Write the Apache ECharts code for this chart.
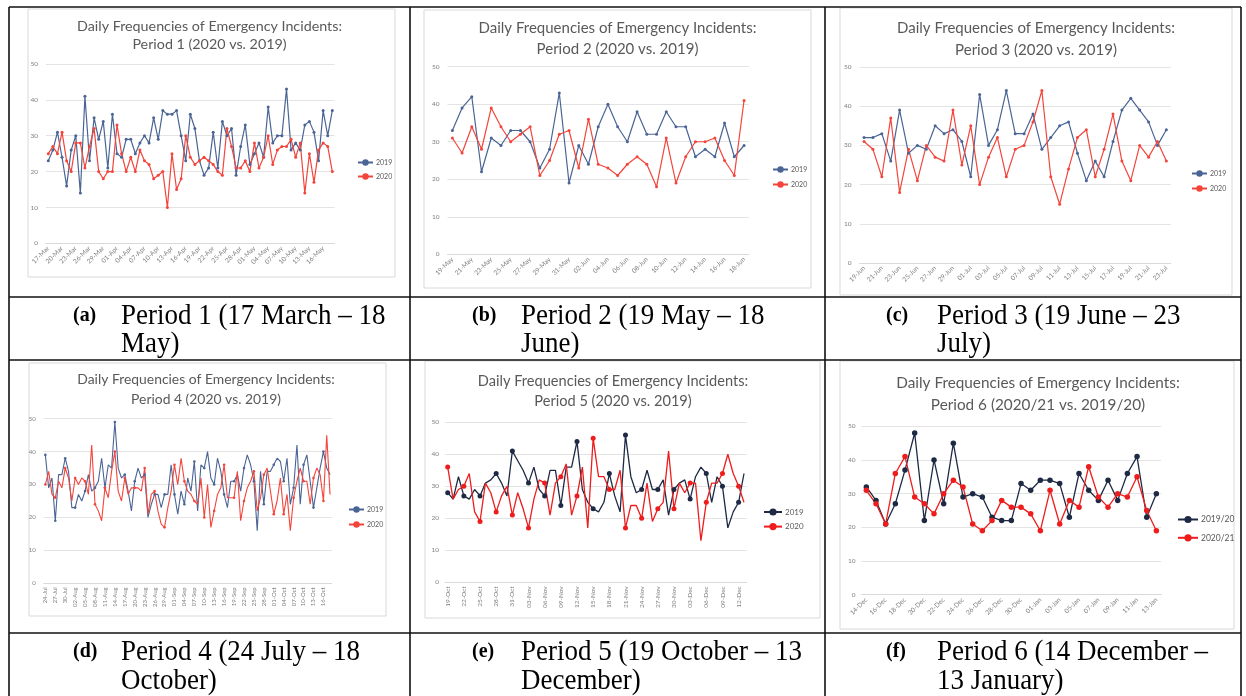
<!DOCTYPE html>
<html><head><meta charset="utf-8">
<script src="https://cdn.jsdelivr.net/npm/echarts@6/dist/echarts.min.js"></script>
<style>html,body{margin:0;padding:0;background:#fff}#c{width:1246px;height:696px}</style>
</head><body><div id="c"></div>
<script>
// ---------- categories ----------
const cat1 = ['17-Mar','18-Mar','19-Mar','20-Mar','21-Mar','22-Mar','23-Mar','24-Mar','25-Mar','26-Mar','27-Mar','28-Mar','29-Mar','30-Mar','31-Mar',
'01-Apr','02-Apr','03-Apr','04-Apr','05-Apr','06-Apr','07-Apr','08-Apr','09-Apr','10-Apr','11-Apr','12-Apr','13-Apr','14-Apr','15-Apr','16-Apr','17-Apr','18-Apr','19-Apr','20-Apr','21-Apr','22-Apr','23-Apr','24-Apr','25-Apr','26-Apr','27-Apr','28-Apr','29-Apr','30-Apr',
'01-May','02-May','03-May','04-May','05-May','06-May','07-May','08-May','09-May','10-May','11-May','12-May','13-May','14-May','15-May','16-May','17-May','18-May'];
const cat2 = ['19-May','20-May','21-May','22-May','23-May','24-May','25-May','26-May','27-May','28-May','29-May','30-May','31-May',
'01-Jun','02-Jun','03-Jun','04-Jun','05-Jun','06-Jun','07-Jun','08-Jun','09-Jun','10-Jun','11-Jun','12-Jun','13-Jun','14-Jun','15-Jun','16-Jun','17-Jun','18-Jun'];
const cat3 = ['19-Jun','20-Jun','21-Jun','22-Jun','23-Jun','24-Jun','25-Jun','26-Jun','27-Jun','28-Jun','29-Jun','30-Jun',
'01-Jul','02-Jul','03-Jul','04-Jul','05-Jul','06-Jul','07-Jul','08-Jul','09-Jul','10-Jul','11-Jul','12-Jul','13-Jul','14-Jul','15-Jul','16-Jul','17-Jul','18-Jul','19-Jul','20-Jul','21-Jul','22-Jul','23-Jul'];
const cat4 = ['24-Jul','25-Jul','26-Jul','27-Jul','28-Jul','29-Jul','30-Jul','31-Jul',
'01-Aug','02-Aug','03-Aug','04-Aug','05-Aug','06-Aug','07-Aug','08-Aug','09-Aug','10-Aug','11-Aug','12-Aug','13-Aug','14-Aug','15-Aug','16-Aug','17-Aug','18-Aug','19-Aug','20-Aug','21-Aug','22-Aug','23-Aug','24-Aug','25-Aug','26-Aug','27-Aug','28-Aug','29-Aug','30-Aug','31-Aug',
'01-Sep','02-Sep','03-Sep','04-Sep','05-Sep','06-Sep','07-Sep','08-Sep','09-Sep','10-Sep','11-Sep','12-Sep','13-Sep','14-Sep','15-Sep','16-Sep','17-Sep','18-Sep','19-Sep','20-Sep','21-Sep','22-Sep','23-Sep','24-Sep','25-Sep','26-Sep','27-Sep','28-Sep','29-Sep','30-Sep',
'01-Oct','02-Oct','03-Oct','04-Oct','05-Oct','06-Oct','07-Oct','08-Oct','09-Oct','10-Oct','11-Oct','12-Oct','13-Oct','14-Oct','15-Oct','16-Oct','17-Oct','18-Oct'];
const cat5 = ['19-Oct','20-Oct','21-Oct','22-Oct','23-Oct','24-Oct','25-Oct','26-Oct','27-Oct','28-Oct','29-Oct','30-Oct','31-Oct',
'01-Nov','02-Nov','03-Nov','04-Nov','05-Nov','06-Nov','07-Nov','08-Nov','09-Nov','10-Nov','11-Nov','12-Nov','13-Nov','14-Nov','15-Nov','16-Nov','17-Nov','18-Nov','19-Nov','20-Nov','21-Nov','22-Nov','23-Nov','24-Nov','25-Nov','26-Nov','27-Nov','28-Nov','29-Nov','30-Nov',
'01-Dec','02-Dec','03-Dec','04-Dec','05-Dec','06-Dec','07-Dec','08-Dec','09-Dec','10-Dec','11-Dec','12-Dec','13-Dec'];
const cat6 = ['14-Dec','15-Dec','16-Dec','17-Dec','18-Dec','19-Dec','20-Dec','21-Dec','22-Dec','23-Dec','24-Dec','25-Dec','26-Dec','27-Dec','28-Dec','29-Dec','30-Dec','31-Dec',
'01-Jan','02-Jan','03-Jan','04-Jan','05-Jan','06-Jan','07-Jan','08-Jan','09-Jan','10-Jan','11-Jan','12-Jan','13-Jan'];

// ---------- series values ----------
const p1_2019 = [23,26,31,24,16,26,30,14,41,23,35,29,34,21,36,25,24,29,29,25,28,30,28,35,29,37,36,36,37,30,23,36,32,23,19,21,31,21,34,30,32,19,27,33,22,25,28,24,38,28,30,30,43,26,28,26,33,34,31,23,37,30,37];
const p1_2020 = [25,27,25,31,23,20,28,28,21,27,32,20,18,20,20,33,25,20,24,20,26,23,22,18,19,20,10,25,15,18,30,24,22,23,24,23,22,20,19,32,27,21,21,23,20,28,21,24,30,22,26,27,27,29,24,28,14,25,17,26,28,27,20];
const p2_2019 = [33,39,42,22,31,29,33,33,30,23,28,43,19,29,24,34,40,34,30,38,32,32,38,34,34,26,28,26,35,26,29];
const p2_2020 = [31,27,34,28,39,34,30,32,34,21,25,32,33,23,36,24,23,21,24,26,24,18,31,19,26,30,30,31,25,21,41];
const p3_2019 = [32,32,33,26,39,28,30,29,35,33,34,31,22,43,30,34,44,33,33,38,29,32,35,36,28,21,26,22,31,39,42,39,36,30,34];
const p3_2020 = [31,29,22,37,18,29,21,30,27,26,39,25,35,20,27,32,22,29,30,36,44,22,15,24,32,34,22,29,38,26,21,30,27,31,26];
const p4_2019 = [39,29,32,19,33,33,38,34,23,23,27,25,28,33,28,29,31,38,29,36,35,49,35,32,33,28,22,31,35,32,33,20,24,27,27,23,27,27,36,27,21,28,24,32,28,37,22,36,35,40,32,30,38,34,27,23,31,31,33,28,35,39,36,31,16,34,24,34,34,36,38,37,31,38,24,29,42,24,36,39,31,23,29,35,40,35,33];
const p4_2020 = [30,34,27,26,31,29,35,32,25,32,30,32,31,27,42,24,22,19,29,26,34,40,28,25,32,27,29,29,29,28,35,21,27,28,22,18,17,23,28,36,30,38,31,28,27,25,24,32,20,30,17,22,27,29,36,26,26,26,34,19,25,29,31,34,22,26,33,35,28,21,25,32,21,27,16,26,31,35,31,31,24,32,35,33,25,45,27];
const p5_2019 = [28,26,33,27,26,29,27,31,32,34,31,27,41,38,35,31,36,29,27,35,35,24,36,36,44,29,25,23,22,25,34,27,22,46,33,28,29,35,29,29,32,21,29,31,32,26,33,36,34,25,33,30,17,22,25,34];
const p5_2020 = [36,26,29,30,34,22,19,31,28,22,27,30,21,28,23,17,26,32,31,21,31,33,37,21,27,36,17,45,33,33,29,29,35,17,24,24,20,31,19,23,25,41,23,31,28,31,31,13,25,31,31,34,40,34,30,25];
const p6_1920 = [32,28,21,27,37,48,22,40,27,45,29,30,29,23,22,22,33,31,34,34,33,23,36,31,28,34,28,36,41,23,30];
const p6_2021 = [31,27,21,36,41,29,27,24,30,34,32,21,19,22,28,26,26,24,19,31,21,28,26,38,29,26,30,29,35,25,19];

// ---------- texts ----------
const titles1 = ['Daily Frequencies of Emergency Incidents:','Daily Frequencies of Emergency Incidents:','Daily Frequencies of Emergency Incidents:','Daily Frequencies of Emergency Incidents:','Daily Frequencies of Emergency Incidents:','Daily Frequencies of Emergency Incidents:'];
const titles2 = ['Period 1 (2020 vs. 2019)','Period 2 (2020 vs. 2019)','Period 3 (2020 vs. 2019)','Period 4 (2020 vs. 2019)','Period 5 (2020 vs. 2019)','Period 6 (2020/21 vs. 2019/20)'];
const seriesNames = [['2019','2020'],['2019','2020'],['2019','2020'],['2019','2020'],['2019','2020'],['2019/20','2020/21']];
const capLetters = ['(a)','(b)','(c)','(d)','(e)','(f)'];
const capLine1 = ['Period 1 (17 March \u2013 18','Period 2 (19 May \u2013 18','Period 3 (19 June \u2013 23','Period 4 (24 July \u2013 18','Period 5 (19 October \u2013 13','Period 6 (14 December \u2013'];
const capLine2 = ['May)','June)','July)','October)','December)','13 January)'];
const yTicks = [0,10,20,30,40,50];

const cats = [cat1,cat2,cat3,cat4,cat5,cat6];
const vals = [[p1_2019,p1_2020],[p2_2019,p2_2020],[p3_2019,p3_2020],[p4_2019,p4_2020],[p5_2019,p5_2020],[p6_1920,p6_2021]];

// ---------- layout / style ----------
const F = 'Lato, "Open Sans", sans-serif';
const L = [
 {g:[46.0,64,288.6,179.3], t:[209.5,26,44,14.3], lg:[352,154,15,15,8], box:[28,9,367,268], iv:2, rot:45, ym:8, sym:3, lw:1.2, c:['#4a6595','#f3453b'], fs:6.5, lfs:7},
 {g:[447.5,66.7,301.4,187.6], t:[617.5,28,49,15], lg:[767,161,16,15,8], box:[424,10,387,278], iv:1, rot:45, ym:8, sym:3, lw:1.2, c:['#4a6595','#f3453b'], fs:6.5, lfs:7},
 {g:[859.6,67,311.2,196], t:[1036,28,50,15], lg:[1186,165,16,15,8], box:[840,8,392,287], iv:1, rot:45, ym:8, sym:3, lw:1.2, c:['#4a6595','#f3453b'], fs:6.5, lfs:7},
 {g:[43.7,418.7,288,164.6], t:[206,380,400,13.9], lg:[343,501,16,15,8], box:[29,363,357,253], iv:2, rot:90, ym:8, sym:2.6, lw:1.1, c:['#4a6595','#f3453b'], fs:6, lfs:7},
 {g:[445,422.3,301.7,160], t:[613,381,401,14.6], lg:[758,503,15.6,18,9], box:[425,361,395,257], iv:2, rot:90, ym:6, sym:5, lw:1.3, c:['#1e2a44','#ee1c1c'], fs:6.5, lfs:8},
 {g:[861.5,426.3,299.7,168.4], t:[1038,383,405,15.3], lg:[1172,510,18.3,20,9], box:[840,361,394,268], iv:1, rot:45, ym:6, sym:5.5, lw:1.3, c:['#1e2a44','#ee1c1c'], fs:6.5, lfs:8.5}
];
const capX = [[73,121],[472,521],[886,937],[73,121],[472,521],[886,937]];
const capY = [[316,344],[316,344],[316,344],[652,681],[652,681],[652,681]];
const SERIF = '"Liberation Serif", "Times New Roman", serif';

const grid=[], xAxis=[], yAxis=[], series=[], legend=[], graphic=[];
L.forEach((p,i)=>{
  grid.push({left:p.g[0], top:p.g[1], width:p.g[2], height:p.g[3], containLabel:false});
  xAxis.push({type:'category', gridIndex:i, data:cats[i], boundaryGap:true,
    axisLine:{show:true, lineStyle:{color:'#d9d9d9', width:1}}, axisTick:{show:false},
    axisLabel:{interval:p.iv, rotate:p.rot, fontSize:p.fs, color:'#7f7f7f', fontFamily:F, margin:4},
    splitLine:{show:false}});
  yAxis.push({type:'value', gridIndex:i, min:yTicks[0], max:yTicks[yTicks.length-1], interval:10,
    axisLine:{show:false}, axisTick:{show:false},
    axisLabel:{fontSize:p.fs, color:'#7f7f7f', fontFamily:F, margin:p.ym},
    splitLine:{show:true, lineStyle:{color:'#e3e3e3', width:1}}});
  const n1 = 'p'+i+'|'+seriesNames[i][0], n2 = 'p'+i+'|'+seriesNames[i][1];
  [n1,n2].forEach((nm,k)=>{
    series.push({type:'line', name:nm, xAxisIndex:i, yAxisIndex:i, data:vals[i][k],
      symbol:'circle', symbolSize:p.sym, showSymbol:true, silent:true, animation:false,
      lineStyle:{color:p.c[k], width:p.lw}, itemStyle:{color:p.c[k]}});
  });
  legend.push({data:[n1,n2], orient:'vertical', left:p.lg[0], top:p.lg[1], itemGap:p.lg[2]-p.lg[4],
    itemWidth:p.lg[3], itemHeight:p.lg[4], selectedMode:false,
    formatter:(name)=>name.split('|')[1], textStyle:{fontSize:p.lfs, color:'#595959', fontFamily:F, padding:[0,0,0,-2]}});
  graphic.push({type:'rect', shape:{x:p.box[0], y:p.box[1], width:p.box[2], height:p.box[3]}, style:{fill:'none', stroke:'#d9d9d9', lineWidth:1}, silent:true});
  graphic.push({type:'text', x:p.t[0], y:p.t[1], style:{text:titles1[i], fill:'#595959', font:p.t[3]+'px '+F, align:'center', verticalAlign:'middle'}, silent:true});
  graphic.push({type:'text', x:p.t[0], y:p.t[2], style:{text:titles2[i], fill:'#595959', font:p.t[3]+'px '+F, align:'center', verticalAlign:'middle'}, silent:true});
  // captions
  graphic.push({type:'text', x:capX[i][0], y:capY[i][0], scaleX:0.95, style:{text:capLetters[i], fill:'#000', font:'bold 21px '+SERIF, verticalAlign:'middle'}, silent:true});
  graphic.push({type:'text', x:capX[i][1], y:capY[i][0], scaleX:0.93, style:{text:capLine1[i], fill:'#000', font:'29px '+SERIF, verticalAlign:'middle'}, silent:true});
  graphic.push({type:'text', x:capX[i][1], y:capY[i][1], scaleX:0.93, style:{text:capLine2[i], fill:'#000', font:'29px '+SERIF, verticalAlign:'middle'}, silent:true});
});
// table lines
const hLines=[7,297,360,633], vLines=[9,410,825,1241];
hLines.forEach(y=>graphic.push({type:'line', shape:{x1:9,y1:y,x2:1241,y2:y}, style:{stroke:'#111', lineWidth:1.6}, silent:true}));
vLines.forEach(x=>graphic.push({type:'line', shape:{x1:x,y1:7,x2:x,y2:696}, style:{stroke:'#111', lineWidth:1.6}, silent:true}));

const chart = echarts.init(document.getElementById('c'), null, {renderer:'canvas'});
chart.setOption({animation:false, backgroundColor:'#fff', grid, xAxis, yAxis, series, legend, graphic});
</script></body></html>
